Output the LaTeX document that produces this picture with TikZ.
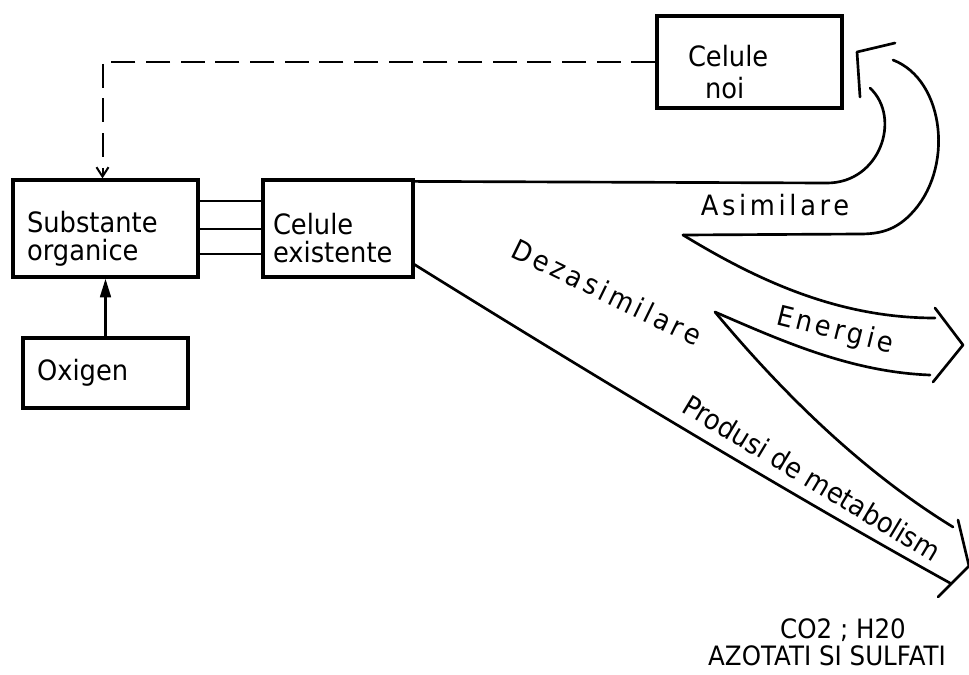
\documentclass[tikz,border=0pt]{standalone}
\usepackage{fontspec}
\setmainfont{DejaVu Sans}[FakeStretch=0.92]
\usetikzlibrary{arrows.meta,calc}

\newcommand{\toppad}{\rule{0pt}{31pt}}

\tikzset{every picture/.style={line width=0.75pt}}
\tikzset{
  box/.style={draw, line width=2.4pt, align=left, inner ysep=0pt, font=\fontsize{21}{21}\selectfont},
  link/.style={line width=1.6pt},
  flow/.style={line width=2pt, line cap=round, line join=round},
  lbl/.style={inner sep=0pt, font=\fontsize{21}{21}\selectfont},
  spaced/.style={font=\fontsize{21}{21}\selectfont\addfontfeature{LetterSpace=13}},
}

\begin{document}
\begin{tikzpicture}[x=0.75pt,y=0.75pt,yscale=-1,xscale=1]
\useasboundingbox (0,0) rectangle (969,674);

% boxes
\node[box, text width=117.75pt, inner xsep=10.5pt, minimum height=72.75pt] (subst) at (105.5,228.5) {\toppad Substante\\organice};
\node[box, text width=97.5pt, inner xsep=7.5pt, minimum height=72.75pt] (celex) at (338,228.5) {\toppad Celule\\existente};
\node[box, text width=102.75pt, inner xsep=10.5pt, minimum height=52.5pt] (oxig) at (105.5,373) {Oxigen};
\node[box, text width=92.25pt, inner xsep=23.25pt, minimum height=69pt] (celnoi) at (749.5,62) {\toppad Celule\\[3pt]\hspace*{12.75pt}noi};

% connectors
\draw[link, line width=2pt, -{Triangle[length=14pt,width=8pt]}] (oxig.north) -- (subst.south);
\foreach \dy in {23,51,76}
  \draw[link] ($(subst.north east)+(0,\dy)$) -- ($(celex.north west)+(0,\dy)$);
\draw[line width=1.5pt, dash pattern=on 18pt off 8pt, -{Straight Barb[length=7pt,width=9pt]}] (celnoi.west) -| ($(subst.north)+(-3,0)$);

% asimilare
\coordinate (asimA) at ($(celex.north east)+(0,3)$);
\draw[flow] (asimA) -- (827,183) .. controls (880,183) and (902,118) .. (870,88);
\draw[flow] (893,60) .. controls (945,80) and (955,170) .. (910,215) .. controls (895,230) and (880,234) .. (860,234) -- (683,235);
\draw[flow] (860,97) -- (857,52) -- (895,43);

% energie
\draw[flow] (683,235) .. controls (760,282) and (840,318) .. (935,318);
\draw[flow] (715,312) .. controls (780,340) and (850,372) .. (930,375);
\draw[flow] (935,308) -- (963,345) -- (933,382);

% dezasimilare
\coordinate (dezA) at ($(celex.south east)+(0,-14)$);
\draw[flow] (715,312) .. controls (780,390) and (860,470) .. (953,527);
\draw[flow] (dezA) .. controls (600,380) and (800,500) .. (950,583);
\draw[flow] (958,520) -- (969,566) -- (938,597);

% labels
\node[lbl, spaced] (tasim) at (775,205) {Asimilare};
\node[lbl, spaced, rotate=-26] (tdez) at (607,292) {Dezasimilare};
\node[lbl, spaced, rotate=-14] (tener) at (835,331) {Energie};
\node[lbl, rotate=-31] (tprod) at (812,478) {Produsi de metabolism};
\node[lbl, align=center, font=\fontsize{20}{20}\selectfont] (tprodus) at (827,642) {\hspace*{24pt}CO2 ; H20\\AZOTATI SI SULFATI};

\end{tikzpicture}
\end{document}
